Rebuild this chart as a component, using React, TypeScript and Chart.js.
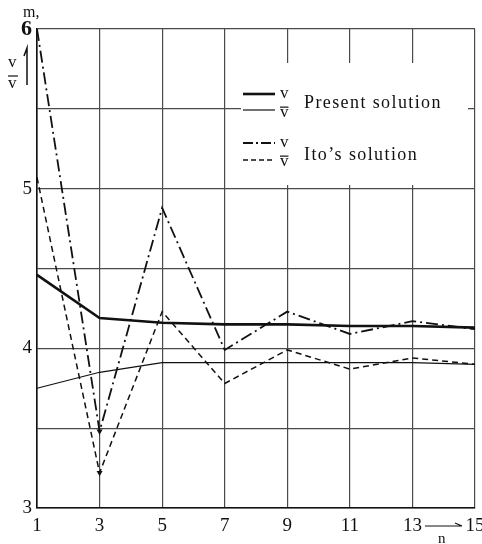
import React, { useEffect, useRef } from 'react';
import { Chart, registerables } from 'chart.js';

Chart.register(...registerables);

// ---- data ----
const nValues = [1, 3, 5, 7, 9, 11, 13, 15];
const presentV = [4.46, 4.19, 4.16, 4.15, 4.15, 4.14, 4.14, 4.13];
const presentVbar = [3.75, 3.85, 3.91, 3.91, 3.91, 3.91, 3.91, 3.9];
const itoV = [6.0, 3.48, 4.88, 3.99, 4.23, 4.09, 4.17, 4.12];
const itoVbar = [5.07, 3.22, 4.23, 3.78, 3.99, 3.87, 3.94, 3.9];
const xTicks = [1, 3, 5, 7, 9, 11, 13, 15];
const yTicks = [3, 3.5, 4, 4.5, 5, 5.5, 6];
const yTickLabels = ['3', '', '4', '', '5', '', '6'];
const legendPresent = 'Present solution';
const legendIto = 'Ito\u2019s solution';
const axisUnit = 'm,';
const axisV = 'v';
const axisN = 'n';

const INK = '#111';
const GRID = '#4a4a4a';
const SERIF = '"Liberation Serif", "DejaVu Serif", serif';

const toPoints = (ys: number[]) => nValues.map((x, i) => ({ x, y: ys[i] }));
const arrowRadius = (ys: number[]) => ys.map((_, i) => (i === 1 ? 3.5 : 0));

function drawVbar(ctx: CanvasRenderingContext2D, x: number, baseline: number, size: number) {
  ctx.font = `${size}px ${SERIF}`;
  ctx.textAlign = 'left';
  ctx.textBaseline = 'alphabetic';
  ctx.fillText(axisV, x, baseline);
  const w = ctx.measureText(axisV).width;
  ctx.beginPath();
  ctx.lineWidth = 1.2;
  ctx.moveTo(x, baseline - size * 0.58);
  ctx.lineTo(x + w, baseline - size * 0.58);
  ctx.stroke();
}

const annotations = {
  id: 'annotations',
  beforeDatasetsDraw(chart: any) {
    const ctx: CanvasRenderingContext2D = chart.ctx;
    ctx.save();
    ctx.fillStyle = '#fff';
    ctx.fillRect(241, 63, 227, 122);
    ctx.restore();
  },
  afterDraw(chart: any) {
    const ctx: CanvasRenderingContext2D = chart.ctx;
    ctx.save();
    ctx.strokeStyle = INK;
    ctx.fillStyle = INK;

    // legend samples
    const x0 = 243, x1 = 275;
    const rows = [
      { y: 94, w: 2.6, dash: [] as number[] },
      { y: 110, w: 1.2, dash: [] as number[] },
      { y: 143, w: 1.8, dash: [10, 3, 2, 3] },
      { y: 160, w: 1.5, dash: [5, 3] },
    ];
    rows.forEach((r) => {
      ctx.beginPath();
      ctx.setLineDash(r.dash);
      ctx.lineWidth = r.w;
      ctx.moveTo(x0, r.y);
      ctx.lineTo(x1, r.y);
      ctx.stroke();
    });
    ctx.setLineDash([]);
    ctx.font = `17px ${SERIF}`;
    ctx.textAlign = 'left';
    ctx.textBaseline = 'alphabetic';
    ctx.fillText(axisV, 280, 98);
    drawVbar(ctx, 280, 117, 17);
    ctx.font = `17px ${SERIF}`;
    ctx.fillText(axisV, 280, 147);
    drawVbar(ctx, 280, 166, 17);

    ctx.font = `18px ${SERIF}`;
    (ctx as any).letterSpacing = '1.4px';
    ctx.textBaseline = 'middle';
    ctx.fillText(legendPresent, 304, 103);
    ctx.fillText(legendIto, 304, 155);
    (ctx as any).letterSpacing = '0px';

    // y-axis annotation
    ctx.textBaseline = 'alphabetic';
    ctx.font = `16px ${SERIF}`;
    ctx.fillText(axisUnit, 23, 17);
    ctx.font = `17px ${SERIF}`;
    ctx.fillText(axisV, 8, 67);
    ctx.beginPath();
    ctx.lineWidth = 1.2;
    ctx.moveTo(8, 76);
    ctx.lineTo(18, 76);
    ctx.stroke();
    ctx.fillText(axisV, 8, 88);
    ctx.beginPath();
    ctx.lineWidth = 1.5;
    ctx.moveTo(27, 85);
    ctx.lineTo(27, 48);
    ctx.lineTo(24, 56);
    ctx.stroke();

    // x-axis annotation
    ctx.beginPath();
    ctx.lineWidth = 1.2;
    ctx.moveTo(425, 526);
    ctx.lineTo(462, 526);
    ctx.moveTo(462, 526);
    ctx.lineTo(455, 523);
    ctx.stroke();
    ctx.font = `15px ${SERIF}`;
    ctx.fillText(axisN, 438, 543);
    ctx.restore();
  },
};

export default function App() {
  const ref = useRef<HTMLCanvasElement | null>(null);
  useEffect(() => {
    if (!ref.current) return;
    const chart = new Chart(ref.current, {
      type: 'line',
      data: {
        datasets: [
          {
            label: 'v (Present solution)',
            data: toPoints(presentV),
            borderColor: INK,
            borderWidth: 2.6,
            pointRadius: 0,
            tension: 0,
          },
          {
            label: 'v\u0304 (Present solution)',
            data: toPoints(presentVbar),
            borderColor: INK,
            borderWidth: 1.2,
            pointRadius: 0,
            tension: 0,
          },
          {
            label: 'v (Ito\u2019s solution)',
            data: toPoints(itoV),
            borderColor: INK,
            borderWidth: 1.8,
            borderDash: [12, 4, 2, 4],
            pointRadius: arrowRadius(itoV),
            pointStyle: 'triangle',
            pointRotation: 180,
            pointBackgroundColor: INK,
            pointBorderColor: INK,
            pointBorderWidth: 0,
            tension: 0,
          },
          {
            label: 'v\u0304 (Ito\u2019s solution)',
            data: toPoints(itoVbar),
            borderColor: INK,
            borderWidth: 1.5,
            borderDash: [6, 4],
            pointRadius: arrowRadius(itoVbar),
            pointStyle: 'triangle',
            pointRotation: 180,
            pointBackgroundColor: INK,
            pointBorderColor: INK,
            pointBorderWidth: 0,
            tension: 0,
          },
        ],
      },
      options: {
        responsive: false,
        animation: false,
        devicePixelRatio: 1,
        clip: false as any,
        layout: { padding: { top: 29, right: 7, left: 0, bottom: 0 }, autoPadding: false } as any,
        plugins: { legend: { display: false }, tooltip: { enabled: false } },
        scales: {
          x: {
            type: 'linear',
            min: 1,
            max: 15,
            afterBuildTicks: (scale: any) => {
              scale.ticks = xTicks.map((v) => ({ value: v }));
            },
            afterFit: (scale: any) => {
              scale.height = 36;
              scale.paddingLeft = 0;
              scale.paddingRight = 0;
            },
            grid: { color: GRID, lineWidth: 1.2, drawTicks: false },
            border: { display: true, color: INK, width: 1.6 },
            ticks: {
              color: INK,
              padding: 7,
              maxRotation: 0,
              autoSkip: false,
              font: { family: SERIF, size: 19 },
              callback: (v: any) => String(v),
            },
          },
          y: {
            type: 'linear',
            min: 3,
            max: 6,
            afterBuildTicks: (scale: any) => {
              scale.ticks = yTicks.map((v) => ({ value: v }));
            },
            afterFit: (scale: any) => {
              scale.width = 37;
              scale.paddingTop = 0;
              scale.paddingBottom = 0;
            },
            grid: { color: GRID, lineWidth: 1.2, drawTicks: false },
            border: { display: true, color: INK, width: 1.6 },
            ticks: {
              color: INK,
              padding: 5,
              autoSkip: false,
              font: (c: any) =>
                c.tick && c.tick.value === 6
                  ? { family: SERIF, size: 22, weight: 'bold' }
                  : { family: SERIF, size: 19 },
              callback: (v: any) => {
                const i = yTicks.indexOf(Number(v));
                return i >= 0 ? yTickLabels[i] : '';
              },
            },
          },
        },
      },
      plugins: [annotations],
    });
    return () => chart.destroy();
  }, []);

  return (
    <div style={{ position: 'absolute', left: 0, top: 0, width: 482, height: 544, background: '#fff' }}>
      <canvas ref={ref} width={482} height={544} style={{ display: 'block' }} />
    </div>
  );
}
